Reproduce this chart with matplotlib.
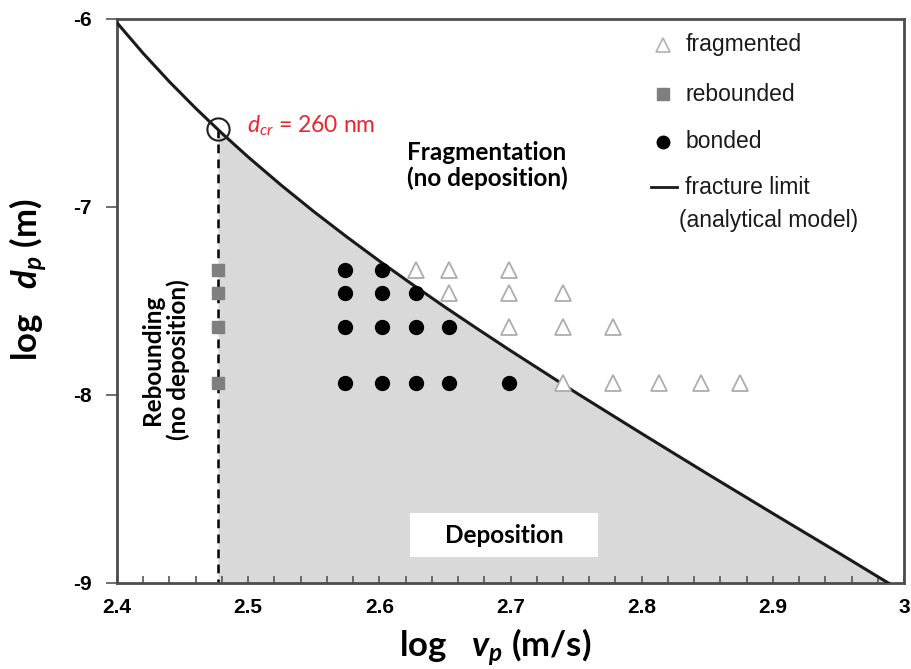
import matplotlib
matplotlib.use("Agg")
import matplotlib.pyplot as plt
from matplotlib.patches import Rectangle

plt.rcParams['axes.unicode_minus'] = False
plt.rcParams['mathtext.fontset'] = 'custom'
plt.rcParams['mathtext.rm'] = 'Lato'
plt.rcParams['mathtext.it'] = 'Lato:italic'
plt.rcParams['mathtext.bf'] = 'Lato:bold'
plt.rcParams['mathtext.bfit'] = 'Lato:bold:italic'

# ---- data (log10 velocity [m/s], log10 diameter [m]) ----
limit_logv = [2.400, 2.420, 2.440, 2.460, 2.480, 2.500, 2.525, 2.550, 2.575, 2.600,
              2.625, 2.650, 2.675, 2.700, 2.750, 2.800, 2.850, 2.900, 2.950, 2.988]
limit_logd = [-6.020, -6.183, -6.334, -6.475, -6.608, -6.734, -6.883, -7.024, -7.158, -7.287,
              -7.411, -7.532, -7.649, -7.764, -7.988, -8.205, -8.419, -8.630, -8.839, -9.000]

crit_logv = 2.477
crit_logd = -6.585

fragmented_logv = [2.628, 2.653, 2.699,
                   2.653, 2.699, 2.740,
                   2.699, 2.740, 2.778,
                   2.740, 2.778, 2.813, 2.845, 2.875]
fragmented_logd = [-7.335, -7.335, -7.335,
                   -7.457, -7.457, -7.457,
                   -7.638, -7.638, -7.638,
                   -7.936, -7.936, -7.936, -7.936, -7.936]

rebounded_logv = [2.477, 2.477, 2.477, 2.477]
rebounded_logd = [-7.335, -7.457, -7.638, -7.936]

bonded_logv = [2.574, 2.602,
               2.574, 2.602, 2.628,
               2.574, 2.602, 2.628, 2.653,
               2.574, 2.602, 2.628, 2.653, 2.699]
bonded_logd = [-7.335, -7.335,
               -7.457, -7.457, -7.457,
               -7.638, -7.638, -7.638, -7.638,
               -7.936, -7.936, -7.936, -7.936, -7.936]

x_ticks = [2.4, 2.5, 2.6, 2.7, 2.8, 2.9, 3.0]
x_tick_labels = ['2.4', '2.5', '2.6', '2.7', '2.8', '2.9', '3']
y_ticks = [-9, -8, -7, -6]
y_tick_labels = ['-9', '-8', '-7', '-6']

legend_labels = ['fragmented', 'rebounded', 'bonded', 'fracture limit', '(analytical model)']

# ---- figure ----
fig = plt.figure(figsize=(9.12, 6.69), dpi=100)
ax = fig.add_axes([117/912, 86/669, 787/912, 564/669])
ax.set_xlim(2.4, 3.0)
ax.set_ylim(-9, -6)

# deposition region (bounded by critical velocity on the left)
fill_v = [crit_logv] + [v for v in limit_logv if v > crit_logv]
fill_d = [crit_logd] + [d for v, d in zip(limit_logv, limit_logd) if v > crit_logv]
ax.fill_between(fill_v, fill_d, -9, color='#d9d9d9', lw=0, zorder=1)
# critical velocity dashed line
ax.plot([crit_logv, crit_logv], [crit_logd, -9], ls=(0, (3.5, 2.5)), color='black', lw=1.8, zorder=2)
# fracture limit
ax.plot(limit_logv, limit_logd, color='#1a1a1a', lw=2.2, zorder=3, solid_joinstyle='round')
# critical point
ax.plot([crit_logv], [crit_logd], marker='o', ms=16, mfc='none', mec='#222222', mew=1.5, zorder=4)

ax.plot(fragmented_logv, fragmented_logd, ls='none', marker='^', ms=12, mfc='white',
        mec='#acacac', mew=1.3, zorder=5)
ax.plot(rebounded_logv, rebounded_logd, ls='none', marker='s', ms=8.5, mfc='#7f7f7f',
        mec='#7f7f7f', zorder=5)
ax.plot(bonded_logv, bonded_logd, ls='none', marker='o', ms=10, mfc='black',
        mec='black', zorder=5)

# ticks
ax.set_xticks(x_ticks)
ax.set_xticklabels(x_tick_labels)
ax.set_xticks([2.4 + 0.02 * i for i in range(31)], minor=True)
ax.set_yticks(y_ticks)
ax.set_yticklabels(y_tick_labels)
ax.tick_params(axis='x', which='both', direction='in', length=5, width=1.2, color='#555555',
               pad=11)
ax.tick_params(axis='y', which='major', direction='out', length=8, width=1.2, color='#555555',
               pad=10)
for lab in ax.get_xticklabels() + ax.get_yticklabels():
    lab.set_fontfamily('Liberation Sans')
    lab.set_fontweight('bold')
    lab.set_fontsize(15)

for s in ax.spines.values():
    s.set_color('#4d4d4d')
    s.set_linewidth(2.0)

# axis labels
ax.set_xlabel(r'log   $\mathbfit{v_p}$ (m/s)', fontfamily='Lato', fontweight='bold', fontsize=25)
ax.xaxis.set_label_coords(0.480, -0.078)
ax.set_ylabel(r'log   $\mathbfit{d_p}$ (m)', fontfamily='Lato', fontweight='bold', fontsize=25)
ax.yaxis.set_label_coords(-0.087, 0.537)

# annotations
ax.text(2.4991, -6.565, r'$d_{cr}$ = 260 nm', color='#e8262d', fontfamily='Lato',
        fontsize=16.5, ha='left', va='center')
ax.text(2.682, -6.78, 'Fragmentation\n(no deposition)', fontfamily='Lato', fontweight='bold',
        fontsize=17.5, ha='center', va='center', linespacing=1.15)
ax.text(2.437, -7.814, 'Rebounding\n(no deposition)', fontfamily='Lato', fontweight='bold',
        fontsize=17.5, ha='center', va='center', rotation=90, linespacing=1.15)
ax.add_patch(Rectangle((2.6234, -8.862), 0.1433, 0.234, fc='white', ec='none', zorder=2))
ax.text(2.695, -8.745, 'Deposition', fontfamily='Lato', fontweight='bold', fontsize=17.5,
        ha='center', va='center', zorder=3)

# manual legend (axes coordinates)
tr = ax.transAxes
lx_mark, lx_text = 0.694, 0.722
ly = [0.954, 0.867, 0.782, 0.702, 0.643]
ax.plot([lx_mark], [ly[0]], transform=tr, marker='^', ms=10, mfc='white', mec='#b0b0b0', mew=1.2)
ax.plot([lx_mark], [ly[1]], transform=tr, marker='s', ms=8, mfc='#7f7f7f', mec='#7f7f7f')
ax.plot([lx_mark], [ly[2]], transform=tr, marker='o', ms=9, mfc='black', mec='black')
ax.plot([0.678, 0.712], [ly[3], ly[3]], transform=tr, color='#1a1a1a', lw=2)
for i, lab in enumerate(legend_labels):
    ax.text(lx_text - (0.008 if i == 4 else 0), ly[i], lab, transform=tr,
            fontfamily='Liberation Sans', fontsize=16.5,
            ha='left', va='center', color='#1a1a1a')

fig.savefig('out.png', dpi=100)
